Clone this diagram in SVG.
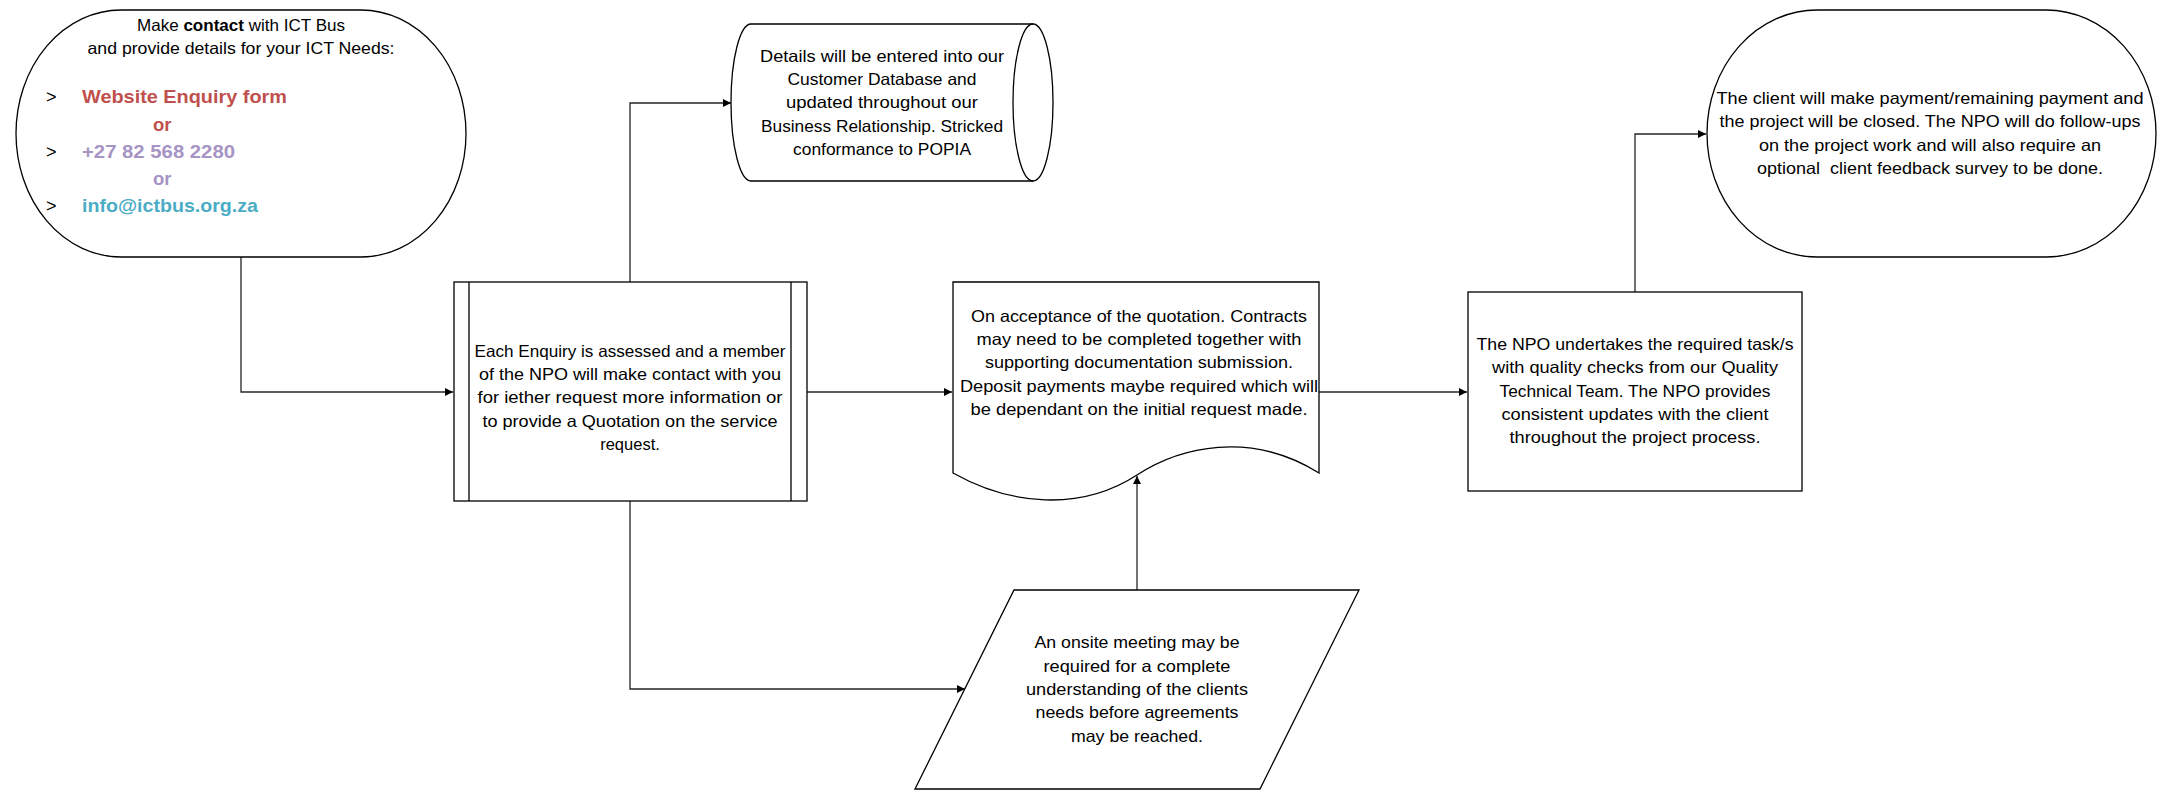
<svg xmlns="http://www.w3.org/2000/svg" width="2167" height="798" viewBox="0 0 2167 798">
<style>
.sh{fill:#fff;stroke:#000;stroke-width:1.3}
.ln{fill:none;stroke:#000;stroke-width:1.3}
.cn{fill:none;stroke:#262626;stroke-width:1.3}
.t{font-family:"Liberation Sans",Arial,sans-serif;font-size:16.5px;fill:#000;text-anchor:middle}
.b{font-family:"Liberation Sans",Arial,sans-serif;font-size:18px;fill:#000}
.k{font-family:"Liberation Sans",Arial,sans-serif;font-size:18.5px;font-weight:bold}
</style>
<defs>
<marker id="ah" markerUnits="userSpaceOnUse" markerWidth="9" markerHeight="9" refX="8" refY="4" orient="auto">
<path d="M0,0 L8,4 L0,8 Z" fill="#000"/>
</marker>
</defs>
<rect width="2167" height="798" fill="#fff"/>
<g id="connectors">
<path class="cn" d="M241,257 V392 H453" marker-end="url(#ah)"/>
<path class="cn" d="M630,282 V103 H731" marker-end="url(#ah)"/>
<path class="cn" d="M807,392 H952" marker-end="url(#ah)"/>
<path class="cn" d="M630,501 V689 H965" marker-end="url(#ah)"/>
<path class="cn" d="M1137,590 V476" marker-end="url(#ah)"/>
<path class="cn" d="M1319,392 H1467" marker-end="url(#ah)"/>
<path class="cn" d="M1635,292 V134 H1706" marker-end="url(#ah)"/>
</g>
<g id="start">
<rect class="sh" x="16" y="10" width="450" height="247" rx="105" ry="123.5"/>
<text class="t" x="241" y="31" textLength="208" lengthAdjust="spacingAndGlyphs">Make <tspan font-weight="bold">contact</tspan> with ICT Bus</text>
<text class="t" x="241" y="54" textLength="307" lengthAdjust="spacingAndGlyphs">and provide details for your ICT Needs:</text>
<text class="b" x="46" y="103">&gt;</text>
<text class="b" x="46" y="158">&gt;</text>
<text class="b" x="46" y="212">&gt;</text>
<text class="k" x="82" y="103" fill="#C0504D" textLength="205" lengthAdjust="spacingAndGlyphs">Website Enquiry form</text>
<text class="k" x="153" y="131" fill="#C0504D">or</text>
<text class="k" x="82" y="158" fill="#A694C4" textLength="153" lengthAdjust="spacingAndGlyphs">+27 82 568 2280</text>
<text class="k" x="153" y="185" fill="#A694C4">or</text>
<text class="k" x="82" y="212" fill="#4BACC6" textLength="176" lengthAdjust="spacingAndGlyphs">info@ictbus.org.za</text>
</g>
<g id="database">
<path class="sh" d="M751,24 L1033,24 A20,78.5 0 0,1 1033,181 L751,181 A20,78.5 0 0,1 751,24 Z"/>
<path class="ln" d="M1033,24 A20,78.5 0 0,0 1033,181"/>
<text class="t" x="882" y="62" textLength="244" lengthAdjust="spacingAndGlyphs">Details will be entered into our</text>
<text class="t" x="882" y="85" textLength="189" lengthAdjust="spacingAndGlyphs">Customer Database and</text>
<text class="t" x="882" y="108" textLength="192" lengthAdjust="spacingAndGlyphs">updated throughout our</text>
<text class="t" x="882" y="132" textLength="242" lengthAdjust="spacingAndGlyphs">Business Relationship. Stricked</text>
<text class="t" x="882" y="155" textLength="178" lengthAdjust="spacingAndGlyphs">conformance to POPIA</text>
</g>
<g id="assess">
<rect class="sh" x="454" y="282" width="353" height="219"/>
<path class="ln" d="M469,282 V501 M791,282 V501"/>
<text class="t" x="630" y="357" textLength="311" lengthAdjust="spacingAndGlyphs">Each Enquiry is assessed and a member</text>
<text class="t" x="630" y="380" textLength="302" lengthAdjust="spacingAndGlyphs">of the NPO will make contact with you</text>
<text class="t" x="630" y="403" textLength="305" lengthAdjust="spacingAndGlyphs">for iether request more information or</text>
<text class="t" x="630" y="427" textLength="295" lengthAdjust="spacingAndGlyphs">to provide a Quotation on the service</text>
<text class="t" x="630" y="450">request.</text>
</g>
<g id="document">
<path class="sh" d="M953,282 H1319 V473 C1250,430 1180,447 1137,475 C1080,512 1010,505 953,473 Z"/>
<text class="t" x="1139" y="322" textLength="336" lengthAdjust="spacingAndGlyphs">On acceptance of the quotation. Contracts</text>
<text class="t" x="1139" y="345" textLength="325" lengthAdjust="spacingAndGlyphs">may need to be completed together with</text>
<text class="t" x="1139" y="368" textLength="308" lengthAdjust="spacingAndGlyphs">supporting documentation submission.</text>
<text class="t" x="1139" y="392" textLength="358" lengthAdjust="spacingAndGlyphs">Deposit payments maybe required which will</text>
<text class="t" x="1139" y="415" textLength="337" lengthAdjust="spacingAndGlyphs">be dependant on the initial request made.</text>
</g>
<g id="meeting">
<path class="sh" d="M1014,590 L1359,590 L1260,789 L915,789 Z"/>
<text class="t" x="1137" y="648" textLength="205" lengthAdjust="spacingAndGlyphs">An onsite meeting may be</text>
<text class="t" x="1137" y="672" textLength="187" lengthAdjust="spacingAndGlyphs">required for a complete</text>
<text class="t" x="1137" y="695" textLength="222" lengthAdjust="spacingAndGlyphs">understanding of the clients</text>
<text class="t" x="1137" y="718" textLength="203" lengthAdjust="spacingAndGlyphs">needs before agreements</text>
<text class="t" x="1137" y="742" textLength="132" lengthAdjust="spacingAndGlyphs">may be reached.</text>
</g>
<g id="task">
<rect class="sh" x="1468" y="292" width="334" height="199"/>
<text class="t" x="1635" y="350" textLength="317" lengthAdjust="spacingAndGlyphs">The NPO undertakes the required task/s</text>
<text class="t" x="1635" y="373" textLength="286" lengthAdjust="spacingAndGlyphs">with quality checks from our Quality</text>
<text class="t" x="1635" y="397" textLength="271" lengthAdjust="spacingAndGlyphs">Technical Team. The NPO provides</text>
<text class="t" x="1635" y="420" textLength="267" lengthAdjust="spacingAndGlyphs">consistent updates with the client</text>
<text class="t" x="1635" y="443" textLength="251" lengthAdjust="spacingAndGlyphs">throughout the project process.</text>
</g>
<g id="end">
<rect class="sh" x="1707" y="10" width="449" height="247" rx="110" ry="123.5"/>
<text class="t" x="1930" y="104" textLength="427" lengthAdjust="spacingAndGlyphs">The client will make payment/remaining payment and</text>
<text class="t" x="1930" y="127" textLength="421" lengthAdjust="spacingAndGlyphs">the project will be closed. The NPO will do follow-ups</text>
<text class="t" x="1930" y="151" textLength="342" lengthAdjust="spacingAndGlyphs">on the project work and will also require an</text>
<text class="t" x="1930" y="174" textLength="346" lengthAdjust="spacingAndGlyphs" xml:space="preserve">optional  client feedback survey to be done.</text>
</g>
</svg>
